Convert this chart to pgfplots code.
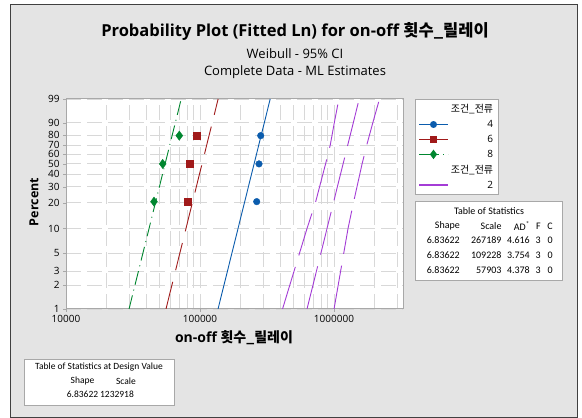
\documentclass[border=0pt]{standalone}
\usepackage{pgfplots}
\usepackage{pgfplotstable}
\pgfplotsset{compat=1.18}
\usepackage{fontspec}
\setmainfont{Open Sans}
\newfontfamily\kr{Noto Sans CJK KR}
\newfontfamily\tabfont{Carlito}
\newcommand{\hg}[1]{{\kr #1}}

\definecolor{bgray}{HTML}{E4E4E4}
\definecolor{mblue}{HTML}{0B5CAD}
\definecolor{mred}{HTML}{A01A1A}
\definecolor{mgreen}{HTML}{00862F}
\definecolor{mpurple}{HTML}{A43CD6}
\definecolor{gridc}{HTML}{D8D8D8}
\definecolor{framec}{HTML}{A8A8A8}

% observations: x = cycles, w = ln(-ln(1-p)) at median ranks 20.6, 50, 79.4 %
\pgfplotstableread{
x w
264900 -1.4673
275600 -0.36651
283800 0.45765
}\obsblue
\pgfplotstableread{
x w
80950 -1.4673
84220 -0.36651
94500 0.45765
}\obsred
\pgfplotstableread{
x w
45370 -1.4673
52680 -0.36651
70060 0.45765
}\obsgreen

% fitted lines (shape 6.83622) between 1 % and 99 %
\pgfplotstableread{
x w
136325 -4.60015
334067 1.52718
}\fitblue
\pgfplotstableread{
x w
55730 -4.60015
136568 1.52718
}\fitred
\pgfplotstableread{
x w
29543 -4.60015
72397 1.52718
}\fitgreen
\pgfplotstableread{
x w
629059 -4.60015
1541521 1.52718
}\fitdesign
\pgfplotstableread{
x w
412920 -4.60015
629050 -2.25037
726600 -1.49994
865080 -0.36651
937860 0.18563
1004980 0.83403
1087390 1.52718
}\cilow
\pgfplotstableread{
x w
1000700 -4.60015
1272640 -2.25037
1396360 -1.49994
1620210 -0.36651
1756500 0.18563
1947970 0.83403
2185260 1.52718
}\cihigh

\pgfplotsset{
  lineleg/.style={legend image code/.code={
    \draw[##1] (0pt,0pt) -- (29pt,0pt);
    \draw[##1, solid] plot coordinates {(14.5pt,0pt)};
  }},
}

\begin{document}
\begin{tikzpicture}
\fill[white] (0,0) rectangle (582pt,418pt);
\filldraw[fill=bgray, draw=black!75, line width=0.8pt] (10pt,1pt) rectangle (577pt,414pt);

% titles
\node[font=\fontsize{16.5}{18}\selectfont\bfseries] at (295pt,387pt) {Probability Plot (Fitted Ln) for on-off \hg{횟수\_릴레이}};
\node[font=\fontsize{13}{14}\selectfont] at (295pt,364pt) {Weibull - 95\% CI};
\node[font=\fontsize{13}{14}\selectfont] at (295pt,346pt) {Complete Data - ML Estimates};

\begin{axis}[
  at={(66pt,109pt)}, anchor=south west,
  scale only axis, width=337pt, height=210pt,
  axis background/.style={fill=white},
  axis line style={framec, line width=1pt},
  xmode=log, log basis x=10,
  xmin=10000, xmax=3273000,
  ymin=-4.60015, ymax=1.52718,
  xtick={10000,100000,1000000},
  xticklabels={10000,100000,1000000},
  minor xtick={20000,30000,40000,50000,60000,70000,80000,90000,
               200000,300000,400000,500000,600000,700000,800000,900000,
               2000000,3000000},
  ytick={-4.60015,-3.90194,-3.49137,-2.97020,-2.25037,-1.49994,-1.03093,
         -0.67173,-0.36651,-0.08742,0.18563,0.47588,0.83403,1.52718},
  yticklabels={1,2,3,5,10,20,30,40,50,60,70,80,90,99},
  grid=both,
  major grid style={gridc, line width=0.9pt, dash pattern=on 15pt off 6pt},
  minor grid style={gridc, line width=0.9pt, dash pattern=on 15pt off 6pt},
  tick align=outside, major tick length=3pt, minor tick length=0pt,
  tick style={framec},
  ticklabel style={font=\fontsize{10}{11}\selectfont, text=black},
  /pgf/number format/assume math mode=true,
  xtick pos=bottom, ytick pos=left,
  clip=true,
  legend style={at={(1.0356,1.0)}, anchor=north west, draw=framec, fill=white,
    font=\fontsize{10}{11}\selectfont, row sep=2.2pt, inner xsep=3pt, inner ysep=3pt,
    /tikz/every even column/.append style={column sep=4pt}},
  legend cell align=right,
]
% fitted lines
\addplot[forget plot, mblue, line width=0.9pt] table[x=x,y=w] {\fitblue};
\addplot[forget plot, mred, line width=0.9pt, dash pattern=on 28pt off 12pt] table[x=x,y=w] {\fitred};
\addplot[forget plot, mgreen, line width=0.9pt, dash pattern=on 14pt off 5pt on 1pt off 5pt] table[x=x,y=w] {\fitgreen};
% 95 % confidence bounds at the design value
\addplot[forget plot, mpurple, line width=0.9pt, dash pattern=on 44pt off 12pt] table[x=x,y=w] {\cilow};
\addplot[forget plot, mpurple, line width=0.9pt, dash pattern=on 44pt off 12pt] table[x=x,y=w] {\cihigh};
% observations
\addplot[forget plot, only marks, mark=*, mblue, mark size=3.3pt] table[x=x,y=w] {\obsblue};
\addplot[forget plot, only marks, mark=square*, mred, mark size=3.5pt] table[x=x,y=w] {\obsred};
\addplot[forget plot, only marks, mark=diamond*, mgreen, mark size=4.6pt] table[x=x,y=w] {\obsgreen};

% legend
\addlegendimage{empty legend}\addlegendentry{\hg{조건\_전류}}
\addlegendimage{lineleg, color=mblue, line width=0.9pt, mark=*, mark size=3pt}\addlegendentry{4}
\addlegendimage{lineleg, color=mred, line width=0.9pt, mark=square*, mark size=3pt}\addlegendentry{6}
\addlegendimage{lineleg, color=mgreen, line width=0.9pt, dash pattern=on 20pt off 4pt on 1pt off 4pt, mark=diamond*, mark size=4pt}\addlegendentry{8}
\addlegendimage{empty legend}\addlegendentry{\hg{조건\_전류}}
% design value fit, carrying its own legend entry
\addplot[mpurple, line width=0.9pt, dash pattern=on 44pt off 12pt,
  legend image code/.code={\draw[mpurple, solid, line width=1.6pt] (0pt,0.5pt) -- (29pt,0.5pt);}]
  table[x=x,y=w] {\fitdesign};
\addlegendentry{2}
\end{axis}

% axis labels
\node[font=\fontsize{14}{15}\selectfont\bfseries] at (234pt,80pt) {on-off \hg{횟수\_릴레이}};
\node[font=\fontsize{12.5}{13}\selectfont\bfseries, rotate=90] at (34pt,216pt) {Percent};

% table of statistics
\filldraw[fill=white, draw=framec, line width=0.8pt] (415pt,138pt) rectangle (562pt,217pt);
\begin{scope}[every node/.style={font=\tabfont\fontsize{10}{11}\selectfont, inner sep=0pt}]
\node at (489pt,207.3pt) {Table of Statistics};
\node[anchor=east] at (460pt,192pt) {Shape};
\node[anchor=east] at (501.7pt,192pt) {Scale};
\node[anchor=east] at (530pt,192pt) {AD\textsuperscript{*}};
\node[anchor=east] at (541pt,192pt) {F};
\node[anchor=east] at (553pt,192pt) {C};
\node[anchor=east] at (460pt,178pt) {6.83622};
\node[anchor=east] at (501.7pt,178pt) {267189};
\node[anchor=east] at (530pt,178pt) {4.616};
\node[anchor=east] at (541pt,178pt) {3};
\node[anchor=east] at (553pt,178pt) {0};
\node[anchor=east] at (460pt,163pt) {6.83622};
\node[anchor=east] at (501.7pt,163pt) {109228};
\node[anchor=east] at (530pt,163pt) {3.754};
\node[anchor=east] at (541pt,163pt) {3};
\node[anchor=east] at (553pt,163pt) {0};
\node[anchor=east] at (460pt,148pt) {6.83622};
\node[anchor=east] at (501.7pt,148pt) {57903};
\node[anchor=east] at (530pt,148pt) {4.378};
\node[anchor=east] at (541pt,148pt) {3};
\node[anchor=east] at (553pt,148pt) {0};
\end{scope}

% statistics at design value
\filldraw[fill=white, draw=framec, line width=0.8pt] (24pt,13pt) rectangle (174pt,59pt);
\begin{scope}[every node/.style={font=\tabfont\fontsize{9.5}{10}\selectfont, inner sep=0pt}]
\node at (99pt,51.3pt) {Table of Statistics at Design Value};
\node at (82.5pt,37pt) {Shape};
\node at (126pt,37pt) {Scale};
\node at (82.5pt,24pt) {6.83622};
\node at (117pt,24pt) {1232918};
\end{scope}
\end{tikzpicture}
\end{document}
